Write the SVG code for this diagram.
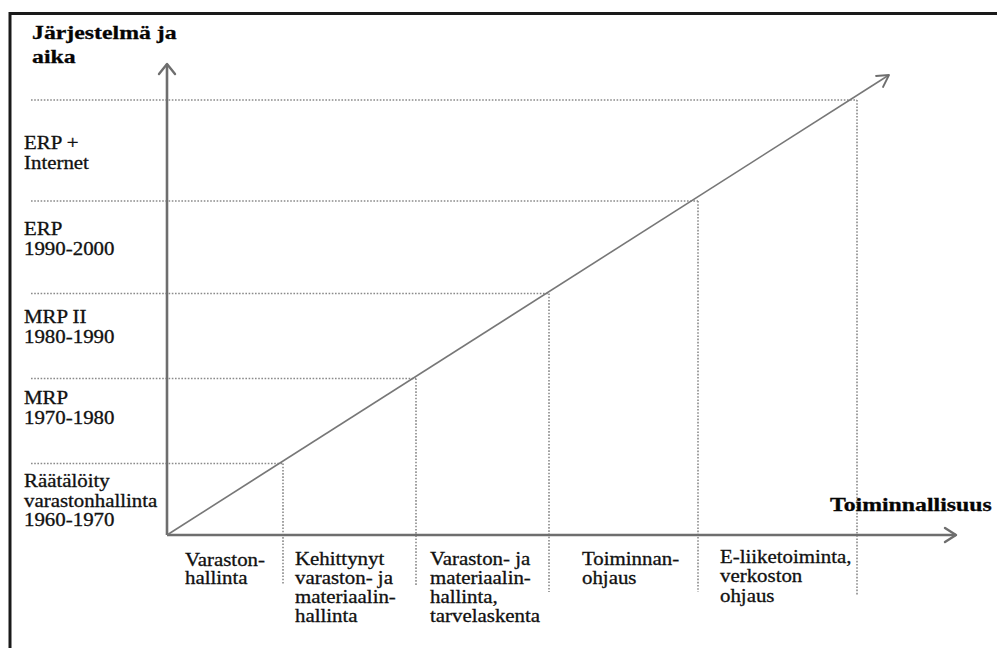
<svg xmlns="http://www.w3.org/2000/svg" width="997" height="648" viewBox="0 0 997 648">
<defs>
<style>
.lbl{font-family:"Liberation Serif","Times New Roman",serif;font-size:18px;fill:#111;stroke:#111;stroke-width:0.3}
.ttl{font-family:"Liberation Serif","Times New Roman",serif;font-size:19.5px;font-weight:bold;fill:#050505;stroke:#050505;stroke-width:0.3}
.axis{stroke:#6e6e6e;stroke-width:2.6;fill:none}
.diag{stroke:#777;stroke-width:1.6;fill:none}
.dot{stroke:#8a8a8a;stroke-width:1.6;stroke-dasharray:1.6 1.6;fill:none}
.frame{stroke:#1a1a1a;stroke-width:3;fill:none}
.head{stroke:#6e6e6e;stroke-width:2.4;fill:none;stroke-linecap:round;stroke-linejoin:round}
</style>
</defs>
<rect width="997" height="648" fill="#fff"/>
<path class="frame" d="M10,648 V13.5 H997"/>

<g id="connectors">
<g id="guides">
<path class="dot" d="M31,100 H857"/>
<path class="dot" d="M31,201 H698"/>
<path class="dot" d="M31,293.5 H549"/>
<path class="dot" d="M31,378.5 H416"/>
<path class="dot" d="M31,463.5 H283"/>
<path class="dot" d="M283,463.5 V584"/>
<path class="dot" d="M416,378.5 V585"/>
<path class="dot" d="M549,293.5 V592"/>
<path class="dot" d="M698,201 V592"/>
<path class="dot" d="M857,100 V595"/>
</g>
<g id="y-axis">
<path class="axis" d="M167,535 V64"/>
<path class="head" d="M159,74 L167,64 L175,74"/>
</g>
<g id="x-axis">
<path class="axis" d="M167,535 H956"/>
<path class="head" d="M945,528 L956,535 L945,542"/>
</g>
<g id="diagonal">
<path class="diag" d="M167,535 L889,75"/>
<path class="head" style="stroke-width:1.8" d="M876,76 L889,75 L883,87"/>
</g>
</g>

<g id="title-y" font-family="Liberation Serif, Times New Roman, serif">
<text class="ttl" transform="translate(32,39) scale(1.22,1)">Järjestelmä ja</text>
<text class="ttl" transform="translate(32,63) scale(1.22,1)">aika</text>
</g>
<g id="title-x" font-family="Liberation Serif, Times New Roman, serif"><text class="ttl" transform="translate(830,511) scale(1.22,1)">Toiminnallisuus</text></g>

<g id="y-erp-internet" font-family="Liberation Serif, Times New Roman, serif">
<text class="lbl" transform="translate(24,149) scale(1.16,1)">ERP +</text>
<text class="lbl" transform="translate(24,168.5) scale(1.16,1)">Internet</text>
</g>
<g id="y-erp" font-family="Liberation Serif, Times New Roman, serif">
<text class="lbl" transform="translate(24,235) scale(1.16,1)">ERP</text>
<text class="lbl" transform="translate(24,255) scale(1.16,1)">1990-2000</text>
</g>
<g id="y-mrp2" font-family="Liberation Serif, Times New Roman, serif">
<text class="lbl" transform="translate(24,323) scale(1.16,1)">MRP II</text>
<text class="lbl" transform="translate(24,343) scale(1.16,1)">1980-1990</text>
</g>
<g id="y-mrp" font-family="Liberation Serif, Times New Roman, serif">
<text class="lbl" transform="translate(24,404) scale(1.16,1)">MRP</text>
<text class="lbl" transform="translate(24,424) scale(1.16,1)">1970-1980</text>
</g>
<g id="y-custom" font-family="Liberation Serif, Times New Roman, serif">
<text class="lbl" transform="translate(24,487) scale(1.16,1)">Räätälöity</text>
<text class="lbl" transform="translate(24,506.5) scale(1.16,1)">varastonhallinta</text>
<text class="lbl" transform="translate(24,526) scale(1.16,1)">1960-1970</text>
</g>

<g id="x-varasto" font-family="Liberation Serif, Times New Roman, serif">
<text class="lbl" transform="translate(185,566) scale(1.16,1)">Varaston-</text>
<text class="lbl" transform="translate(185,584) scale(1.16,1)">hallinta</text>
</g>
<g id="x-kehittynyt" font-family="Liberation Serif, Times New Roman, serif">
<text class="lbl" transform="translate(295,565) scale(1.16,1)">Kehittynyt</text>
<text class="lbl" transform="translate(295,583.7) scale(1.16,1)">varaston- ja</text>
<text class="lbl" transform="translate(295,602.5) scale(1.16,1)">materiaalin-</text>
<text class="lbl" transform="translate(295,622) scale(1.16,1)">hallinta</text>
</g>
<g id="x-tarvelaskenta" font-family="Liberation Serif, Times New Roman, serif">
<text class="lbl" transform="translate(430,565) scale(1.16,1)">Varaston- ja</text>
<text class="lbl" transform="translate(430,583.7) scale(1.16,1)">materiaalin-</text>
<text class="lbl" transform="translate(430,602.5) scale(1.16,1)">hallinta,</text>
<text class="lbl" transform="translate(430,622) scale(1.16,1)">tarvelaskenta</text>
</g>
<g id="x-toiminnanohjaus" font-family="Liberation Serif, Times New Roman, serif">
<text class="lbl" transform="translate(582,565) scale(1.16,1)">Toiminnan-</text>
<text class="lbl" transform="translate(582,583.5) scale(1.16,1)">ohjaus</text>
</g>
<g id="x-eliiketoiminta" font-family="Liberation Serif, Times New Roman, serif">
<text class="lbl" transform="translate(720,563) scale(1.16,1)">E-liiketoiminta,</text>
<text class="lbl" transform="translate(720,582) scale(1.16,1)">verkoston</text>
<text class="lbl" transform="translate(720,601.5) scale(1.16,1)">ohjaus</text>
</g>
</svg>
